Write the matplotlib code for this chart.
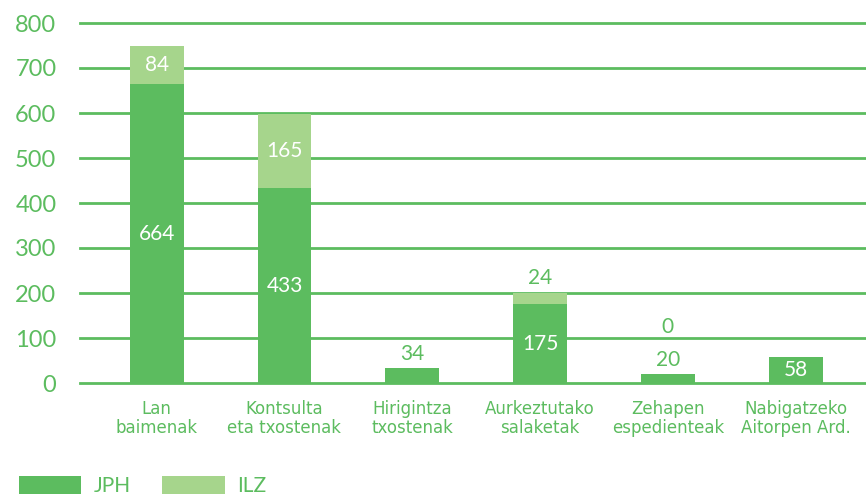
import matplotlib
matplotlib.use("Agg")
import matplotlib.pyplot as plt
import numpy as np

# Datuak
categories = ["Lan\nbaimenak", "Kontsulta\neta txostenak", "Hirigintza\ntxostenak",
              "Aurkeztutako\nsalaketak", "Zehapen\nespedienteak", "Nabigatzeko\nAitorpen Ard."]
jph = [664, 433, 34, 175, 20, 58]
ilz = [84, 165, 0, 24, 0, 0]
ilz_labels = ["84", "165", None, "24", "0", None]
yticks = [0, 100, 200, 300, 400, 500, 600, 700, 800]

DARK = "#5cbc5f"
LIGHT = "#a6d58c"

plt.rcParams["font.family"] = ["Lato", "DejaVu Sans"]

fig = plt.figure(figsize=(8.66, 4.98), dpi=100)
ax = fig.add_axes([80 / 866, 1 - 383 / 498, 1 - 80 / 866, 360 / 498])

x = np.arange(len(categories))
w = 0.42
b1 = ax.bar(x, jph, width=w, color=DARK, zorder=3)
b2 = ax.bar(x, ilz, width=w, bottom=jph, color=LIGHT, zorder=3)

# gridlines
for t in yticks:
    ax.axhline(t, color=DARK, lw=2, zorder=1, clip_on=False)

# labels on bars
for i, (a, b, lb) in enumerate(zip(jph, ilz, ilz_labels)):
    if a >= 50:
        ax.text(i, a / 2, str(a), ha="center", va="center", color="white", fontsize=15, zorder=4)
        top_label_y = a + b
    else:
        ax.text(i, a + 8, str(a), ha="center", va="bottom", color=DARK, fontsize=15, zorder=4)
        top_label_y = a + 70
    if lb is None:
        continue
    if b >= 60:
        ax.text(i, a + b / 2, lb, ha="center", va="center", color="white", fontsize=15, zorder=4)
    else:
        ax.text(i, top_label_y + 12, lb, ha="center", va="bottom", color=DARK, fontsize=15, zorder=4)

ax.set_xlim(-0.6, 5.55)
ax.set_ylim(0, 800)
ax.set_yticks(yticks)
ax.set_yticklabels([str(t) for t in yticks], color=DARK, fontsize=17)
ax.tick_params(axis="y", length=0, pad=17)
ax.set_xticks(x)
ax.set_xticklabels(categories, color=DARK, fontsize=12, linespacing=1.1,
                   family=["Liberation Sans Narrow", "DejaVu Sans"])
ax.tick_params(axis="x", length=0, pad=12)
for s in ax.spines.values():
    s.set_visible(False)

fig.legend([b1, b2], ["JPH", "ILZ"], loc="lower left", bbox_to_anchor=(0.0, -0.034),
           ncol=2, frameon=False, fontsize=15, labelcolor=DARK,
           handlelength=3.0, handleheight=0.95, handletextpad=0.6, columnspacing=1.5)

fig.savefig("out.png", dpi=100)
